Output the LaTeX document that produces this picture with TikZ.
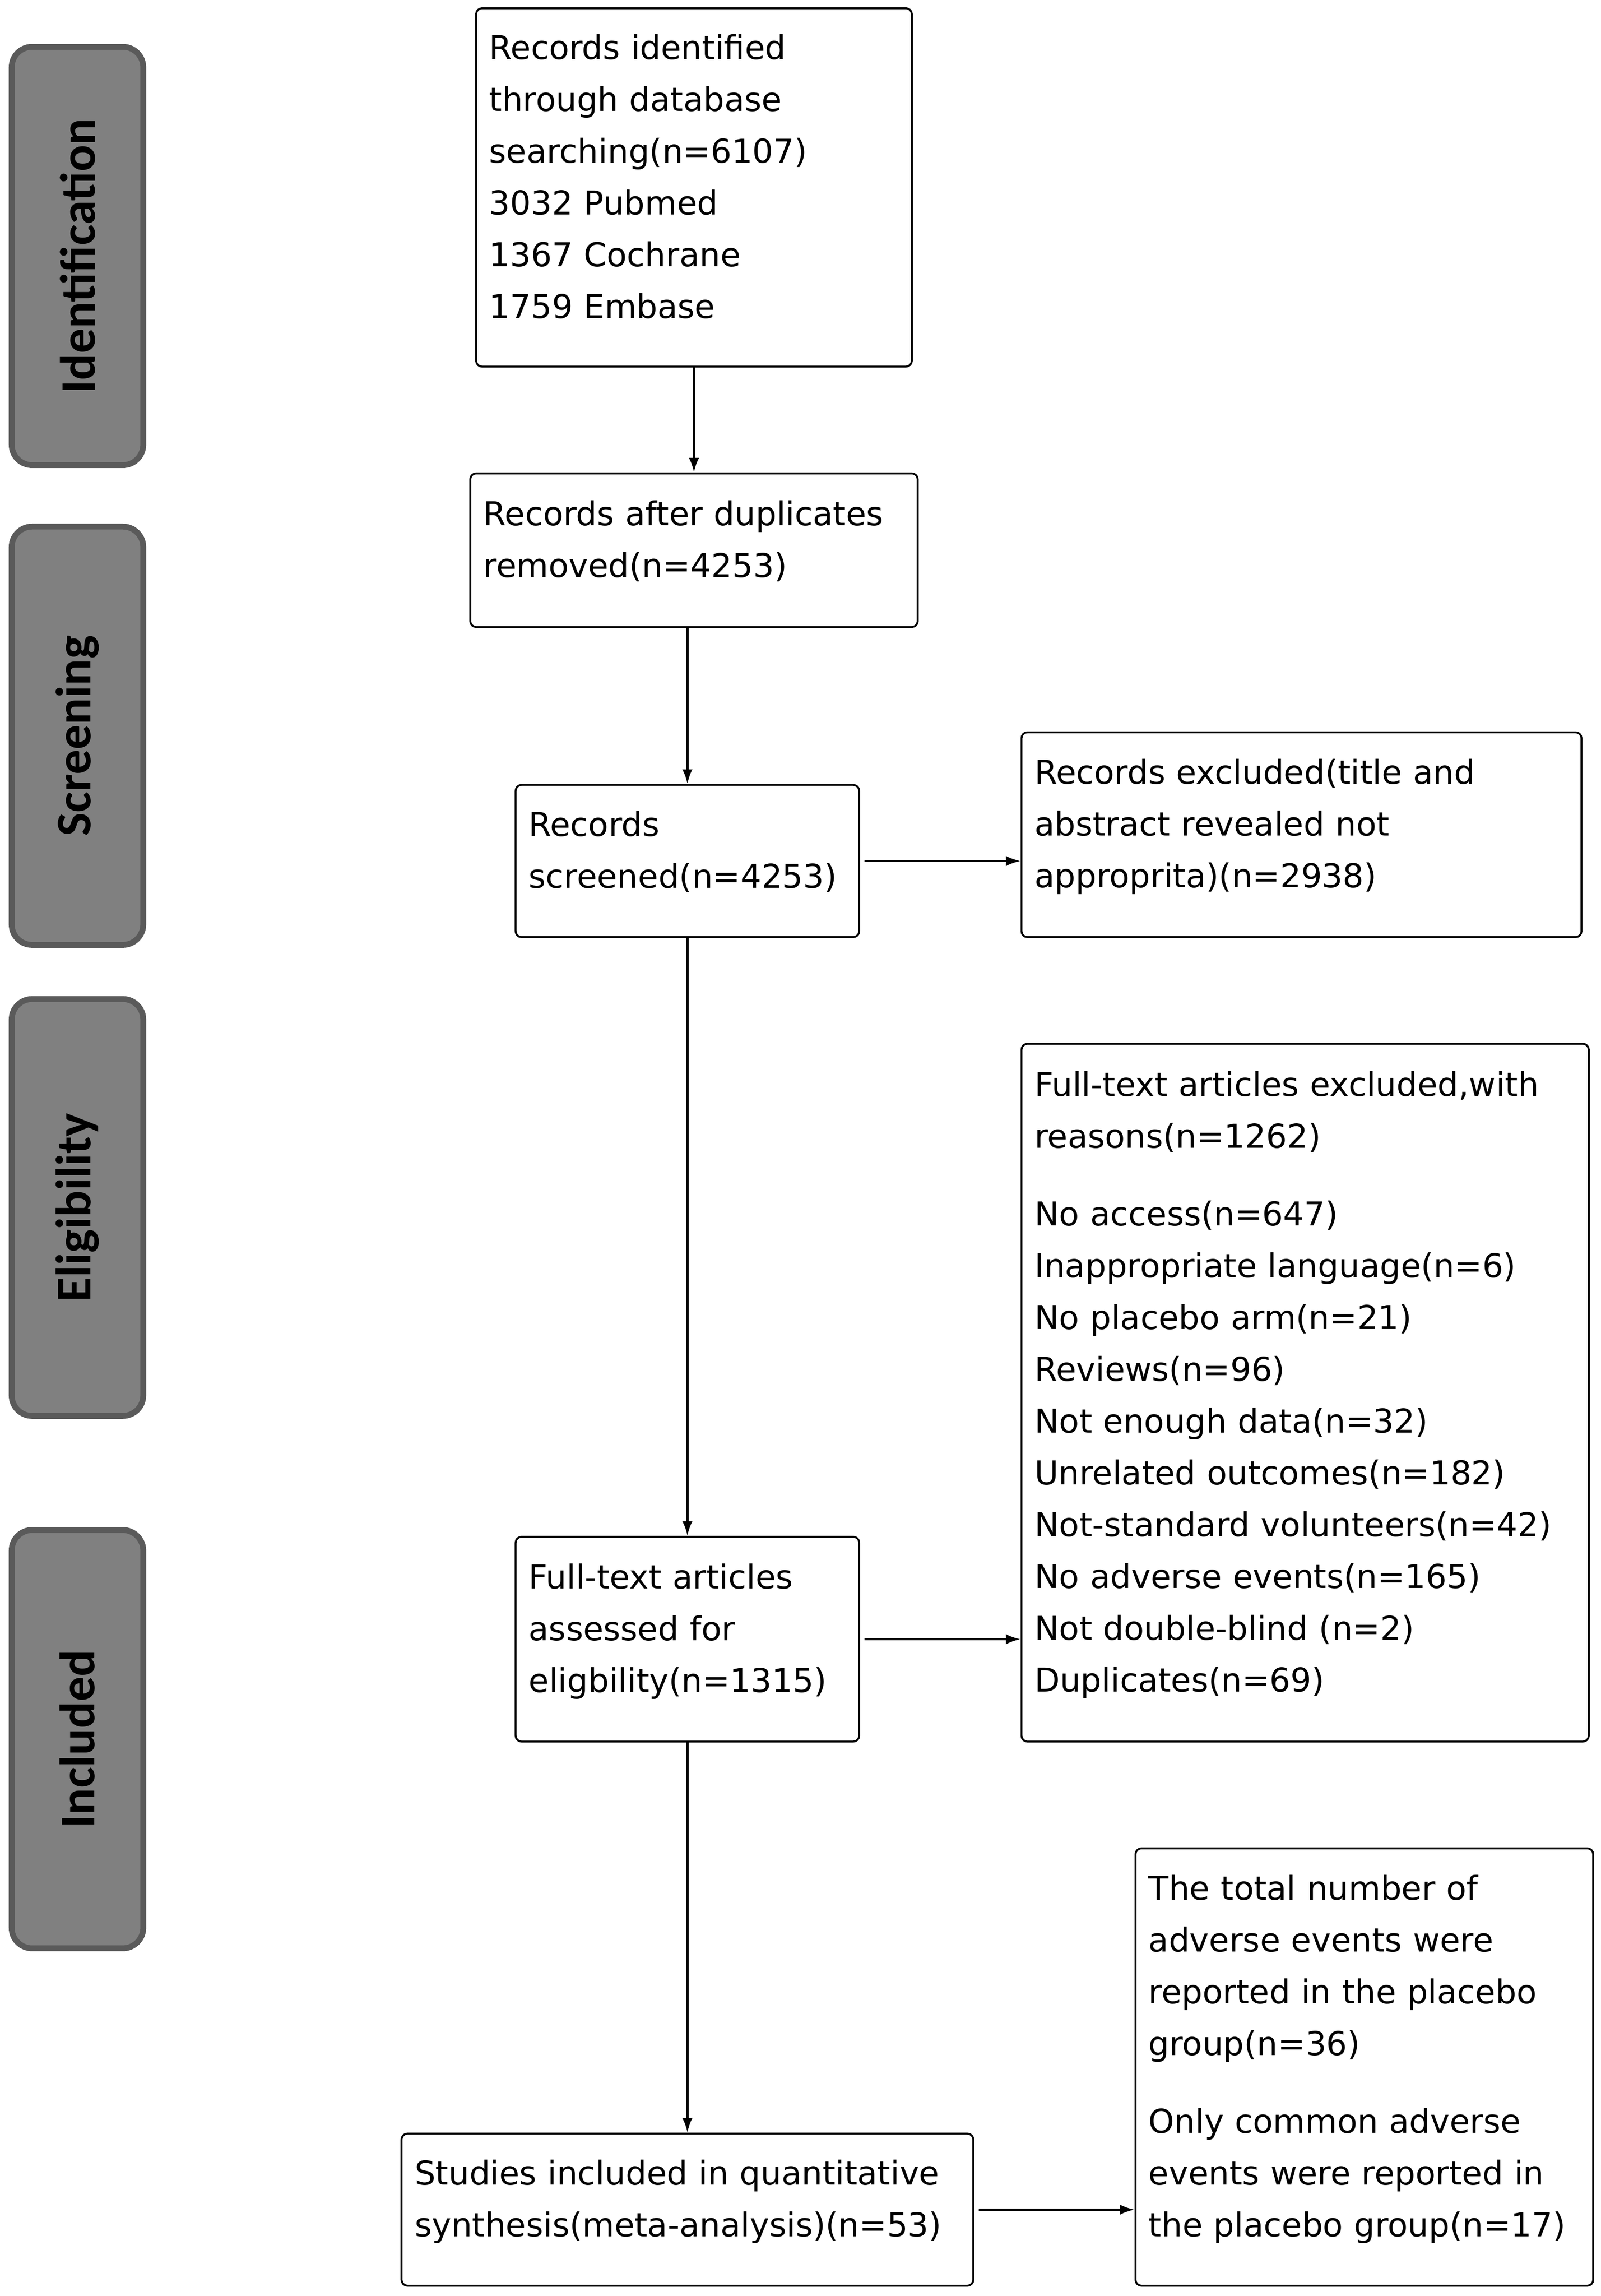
\documentclass[tikz,border=0pt]{standalone}
\usepackage{fontspec}
\setmainfont{DejaVu Sans}
\newfontfamily\sidefont{Carlito}
\usetikzlibrary{arrows.meta}
\definecolor{barfill}{HTML}{808080}
\definecolor{barline}{HTML}{5A5A5A}
\tikzset{
  stage/.style={draw=barline, fill=barfill, line width=4pt, rounded corners=14pt,
    anchor=north west, minimum width=90pt, minimum height=286pt, inner sep=0pt},
  stagetext/.style={rotate=90, inner sep=0pt, font=\sidefont\bfseries\fontsize{34}{40}\selectfont},
  flowbox/.style={draw=black, line width=1.3pt, rounded corners=4pt, anchor=north west,
    align=left, inner xsep=9pt, inner ysep=0pt, font=\fontsize{22.5}{35.4}\selectfont},
  arr/.style={-{Latex[length=10pt,width=7pt]}, line width=1.5pt},
}
\newcommand{\botpad}{\\[-20pt]\mbox{}}
\begin{document}
\begin{tikzpicture}[x=1pt,y=-1pt]
\useasboundingbox (0,0) rectangle (1095,1569.7);
\fill[white] (0,0) rectangle (1095,1569.7);

% stage bars
\node[stage] (s1) at (6,30) {};
\node[stage] (s2) at (6,358) {};
\node[stage, minimum height=285pt] (s3) at (6,681) {};
\node[stage] (s4) at (6,1044) {};
\node[stagetext] (l1) at (s1.center) {Identification};
\node[stagetext] (l2) at (s2.center) {Screening};
\node[stagetext] (l3) at (s3.center) {Eligibility};
\node[stagetext] (l4) at (s4.center) {Included};

% flow boxes
\node[flowbox, text width=280pt, minimum height=245pt] (b1) at (325,5)
  {\mbox{Records identified}\\\mbox{through database}\\\mbox{searching(n=6107)}\\\mbox{3032 Pubmed}\\\mbox{1367 Cochrane}\\\mbox{1759 Embase}\botpad};
\node[flowbox, text width=288pt, minimum height=105pt] (b2) at (321,323)
  {\mbox{Records after duplicates}\\\mbox{removed(n=4253)}\botpad};
\node[flowbox, text width=217pt, minimum height=104pt] (b3) at (352,536)
  {\mbox{Records}\\\mbox{screened(n=4253)}\botpad};
\node[flowbox, text width=365pt, minimum height=140pt] (b4) at (698,500)
  {\mbox{Records excluded(title and}\\\mbox{abstract revealed not}\\\mbox{approprita)(n=2938)}\botpad};
\node[flowbox, text width=370pt, minimum height=477pt] (b5) at (698,713)
  {\mbox{Full-text articles excluded,with}\\\mbox{reasons(n=1262)}\\[17.6pt]
   \mbox{No access(n=647)}\\\mbox{Inappropriate language(n=6)}\\\mbox{No placebo arm(n=21)}\\
   \mbox{Reviews(n=96)}\\\mbox{Not enough data(n=32)}\\\mbox{Unrelated outcomes(n=182)}\\
   \mbox{Not-standard volunteers(n=42)}\\\mbox{No adverse events(n=165)}\\
   \mbox{Not double-blind (n=2)}\\\mbox{Duplicates(n=69)}\botpad};
\node[flowbox, text width=217pt, minimum height=140pt] (b6) at (352,1050)
  {\mbox{Full-text articles}\\\mbox{assessed for}\\\mbox{eligbility(n=1315)}\botpad};
\node[flowbox, text width=373pt, minimum height=104pt] (b7) at (274,1458)
  {\mbox{Studies included in quantitative}\\\mbox{synthesis(meta-analysis)(n=53)}\botpad};
\node[flowbox, text width=295pt, minimum height=299pt] (b8) at (776,1263)
  {\mbox{The total number of}\\\mbox{adverse events were}\\\mbox{reported in the placebo}\\\mbox{group(n=36)}\\[17.6pt]
   \mbox{Only common adverse}\\\mbox{events were reported in}\\\mbox{the placebo group(n=17)}\botpad};

% connectors
\draw[arr] (b1) -- (b2);
\draw[arr] (b2.south -| b3.north) -- (b3.north);
\draw[arr] (b3) -- (b6);
\draw[arr] (b6) -- (b7);
\draw[arr, shorten <=3pt] (b3.east) -- (b3.east -| b4.west);
\draw[arr, shorten <=3pt] (b6.east) -- (b6.east -| b5.west);
\draw[arr, shorten <=3pt] (b7.east) -- (b7.east -| b8.west);
\end{tikzpicture}
\end{document}
